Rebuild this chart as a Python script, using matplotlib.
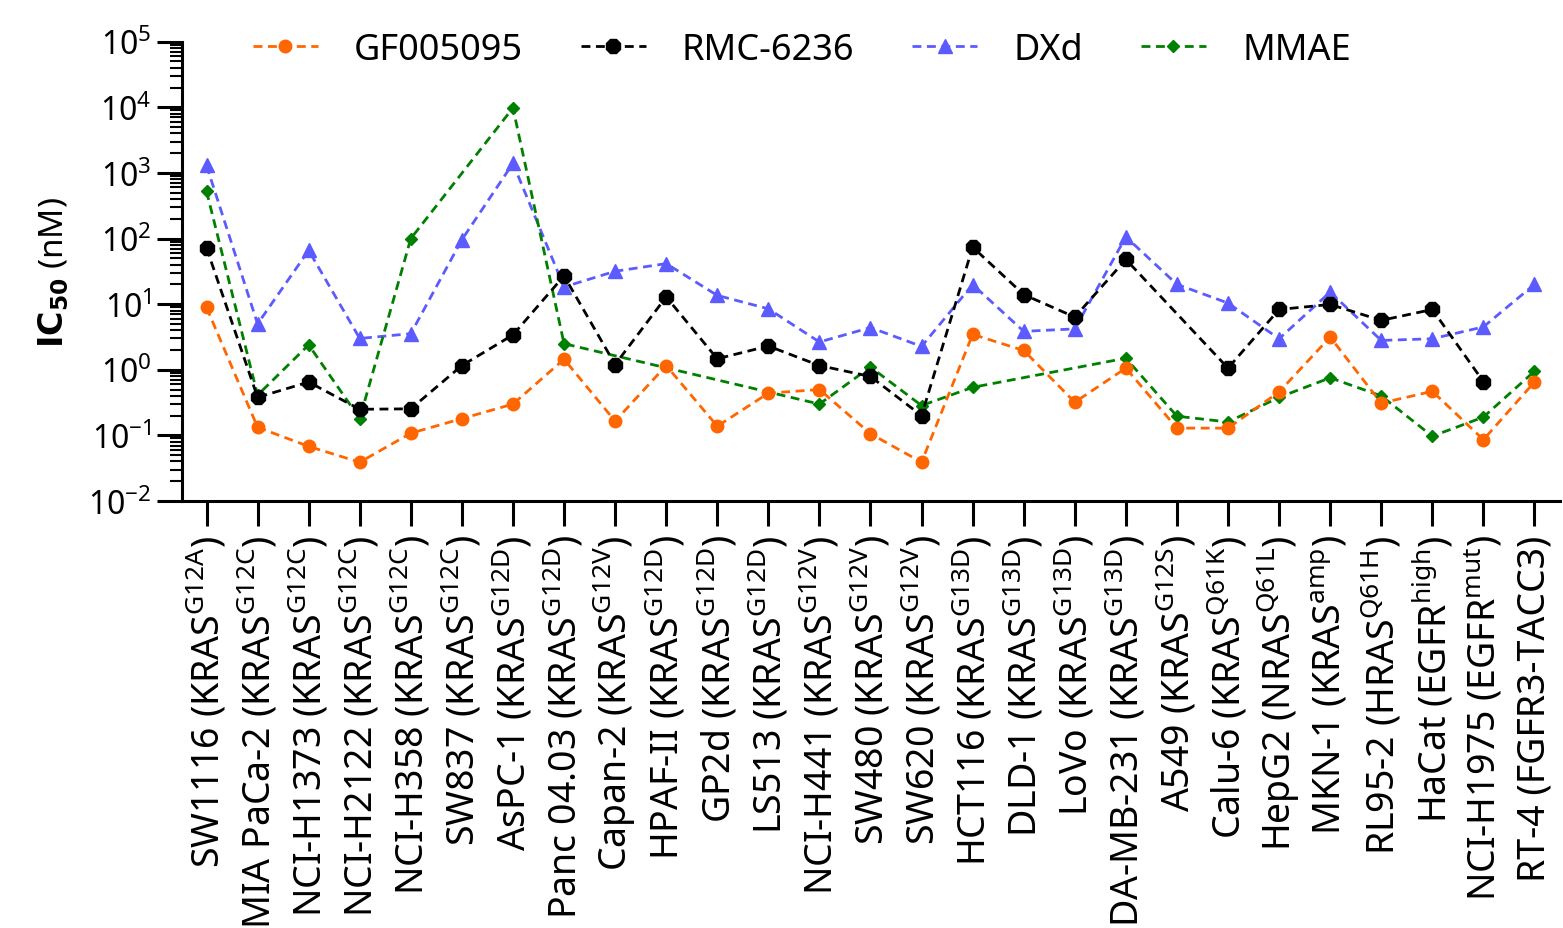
import numpy as np
import matplotlib
matplotlib.use('Agg')
import matplotlib.pyplot as plt
from matplotlib.ticker import LogLocator, NullFormatter

plt.rcParams['font.family'] = 'Noto Sans'
plt.rcParams['mathtext.fontset'] = 'custom'
plt.rcParams['mathtext.rm'] = 'Noto Sans'
plt.rcParams['mathtext.it'] = 'Noto Sans:italic'
plt.rcParams['mathtext.bf'] = 'DejaVu Sans:bold'

# cell lines (x axis)
cell_lines = [
    r'SW1116 (KRAS$^{\mathrm{G12A}}$)',
    r'MIA PaCa-2 (KRAS$^{\mathrm{G12C}}$)',
    r'NCI-H1373 (KRAS$^{\mathrm{G12C}}$)',
    r'NCI-H2122 (KRAS$^{\mathrm{G12C}}$)',
    r'NCI-H358 (KRAS$^{\mathrm{G12C}}$)',
    r'SW837 (KRAS$^{\mathrm{G12C}}$)',
    r'AsPC-1 (KRAS$^{\mathrm{G12D}}$)',
    r'Panc 04.03 (KRAS$^{\mathrm{G12D}}$)',
    r'Capan-2 (KRAS$^{\mathrm{G12V}}$)',
    r'HPAF-II (KRAS$^{\mathrm{G12D}}$)',
    r'GP2d (KRAS$^{\mathrm{G12D}}$)',
    r'LS513 (KRAS$^{\mathrm{G12D}}$)',
    r'NCI-H441 (KRAS$^{\mathrm{G12V}}$)',
    r'SW480 (KRAS$^{\mathrm{G12V}}$)',
    r'SW620 (KRAS$^{\mathrm{G12V}}$)',
    r'HCT116 (KRAS$^{\mathrm{G13D}}$)',
    r'DLD-1 (KRAS$^{\mathrm{G13D}}$)',
    r'LoVo (KRAS$^{\mathrm{G13D}}$)',
    r'MDA-MB-231 (KRAS$^{\mathrm{G13D}}$)',
    r'A549 (KRAS$^{\mathrm{G12S}}$)',
    r'Calu-6 (KRAS$^{\mathrm{Q61K}}$)',
    r'HepG2 (NRAS$^{\mathrm{Q61L}}$)',
    r'MKN-1 (KRAS$^{\mathrm{amp}}$)',
    r'RL95-2 (HRAS$^{\mathrm{Q61H}}$)',
    r'HaCat (EGFR$^{\mathrm{high}}$)',
    r'NCI-H1975 (EGFR$^{\mathrm{mut}}$)',
    'RT-4 (FGFR3-TACC3)',
]

nan = np.nan
# IC50 values (nM), nan = not tested
gf005095 = [8.9, 0.133, 0.068, 0.039, 0.108, 0.18, 0.30, 1.45, 0.165, 1.16,
            0.138, 0.44, 0.50, 0.106, 0.039, 3.46, 1.97, 0.32, 1.06, 0.129,
            0.129, 0.46, 3.15, 0.31, 0.47, 0.086, 0.65]
rmc6236 = [72, 0.38, 0.65, 0.25, 0.254, 1.16, 3.4, 27, 1.2, 12.9,
           1.47, 2.3, 1.16, 0.79, 0.20, 74, 14, 6.36, 48, nan,
           1.06, 8.3, 9.9, 5.66, 8.3, 0.66, nan]
dxd = [1300, 5.0, 66, 3.0, 3.55, 96, 1400, 18.3, 31.7, 41.5,
       13.6, 8.5, 2.65, 4.4, 2.27, 19.9, 3.85, 4.2, 106, 20,
       10.4, 2.97, 15.3, 2.8, 2.97, 4.5, 20]
mmae = [525, 0.41, 2.4, 0.18, 100, nan, 9800, 2.5, nan, nan,
        nan, nan, 0.30, 1.1, 0.285, 0.54, nan, nan, 1.5, 0.196,
        0.16, 0.38, 0.755, 0.40, 0.097, 0.19, 0.95]

series = [
    ('GF005095', gf005095, '#FF6600', 'o', 9, 5),
    ('RMC-6236', rmc6236, 'black', '8', 11.5, 4),
    ('DXd', dxd, '#5B5BFF', '^', 10, 2),
    ('MMAE', mmae, '#008000', 'D', 6, 3),
]

fig = plt.figure(figsize=(15.63, 9.29), dpi=100)
ax = fig.add_axes([182 / 1563, 1 - 502 / 929, (1560 - 182) / 1563, (502 - 42.7) / 929])

x = np.arange(len(cell_lines))
for name, vals, color, marker, ms, z in series:
    vals = np.array(vals, dtype=float)
    ok = ~np.isnan(vals)
    # skip untested lines but keep the dashed line connected
    ax.plot(x[ok], vals[ok], linestyle=(0, (3.2, 2.0)), linewidth=2,
            color=color, marker=marker, markersize=ms, label=name, zorder=z)

ax.set_yscale('log')
ax.set_ylim(1e-2, 1e5)
ax.set_xlim(-0.48, 26.5)
ax.yaxis.set_major_locator(LogLocator(base=10, numticks=20))
ax.yaxis.set_minor_locator(LogLocator(base=10, subs=np.arange(2, 10) * 1.0, numticks=100))
ax.yaxis.set_minor_formatter(NullFormatter())

ax.set_xticks(x)
ax.set_xticklabels(cell_lines, rotation=90, ha='center', va='top')

for side in ['top', 'right']:
    ax.spines[side].set_visible(False)
for side in ['left', 'bottom']:
    ax.spines[side].set_linewidth(2.2)

ax.tick_params(axis='y', which='major', length=18, width=2.2, labelsize=23, pad=4)
ax.tick_params(axis='y', which='minor', length=9, width=1.5)
ax.tick_params(axis='x', which='major', length=18, width=2.2, labelsize=27, pad=6)

ax.set_ylabel(r'$\mathbf{IC_{50}}$ (nM)', fontsize=24, labelpad=12)

ax.legend(loc='center', bbox_to_anchor=(0.513, 0.945), bbox_transform=fig.transFigure,
          ncol=4, frameon=False, fontsize=26, handlelength=1.8,
          handletextpad=1.0, columnspacing=1.6)

fig.savefig('out.png', dpi=100)
